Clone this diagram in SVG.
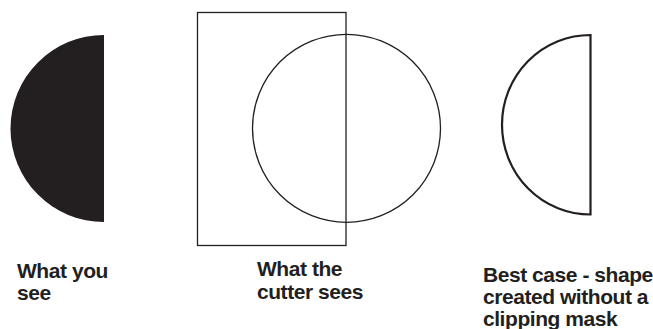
<svg xmlns="http://www.w3.org/2000/svg" width="653" height="329" viewBox="0 0 653 329">
<style>
.lbl{font-family:"Liberation Sans",Arial,sans-serif;font-weight:bold;font-size:21px;letter-spacing:-0.45px;fill:#231f20}
.ln{fill:none;stroke:#231f20}
</style>
<rect width="653" height="329" fill="#ffffff"/>
<g id="what-you-see">
<path d="M104,35 A93.5,93.5 0 0 0 104,222 Z" fill="#231f20"/>
<text class="lbl" x="17" y="277.5">What you</text>
<text class="lbl" x="17" y="300">see</text>
</g>
<g id="cutter-sees">
<rect class="ln" x="197.5" y="12.5" width="148.5" height="233" stroke-width="1.3"/>
<circle class="ln" cx="346.5" cy="128.3" r="94" stroke-width="1.3"/>
<text class="lbl" x="257" y="276">What the</text>
<text class="lbl" x="257" y="298.5">cutter sees</text>
</g>
<g id="best-case">
<path class="ln" d="M590.5,35 A88.5,89.75 0 0 0 590.5,214.5 Z" stroke-width="2.2"/>
<text class="lbl" x="483" y="281.5">Best case - shape</text>
<text class="lbl" x="483" y="304">created without a</text>
<text class="lbl" x="483" y="326">clipping mask</text>
</g>
<g id="connectors"></g>
</svg>
